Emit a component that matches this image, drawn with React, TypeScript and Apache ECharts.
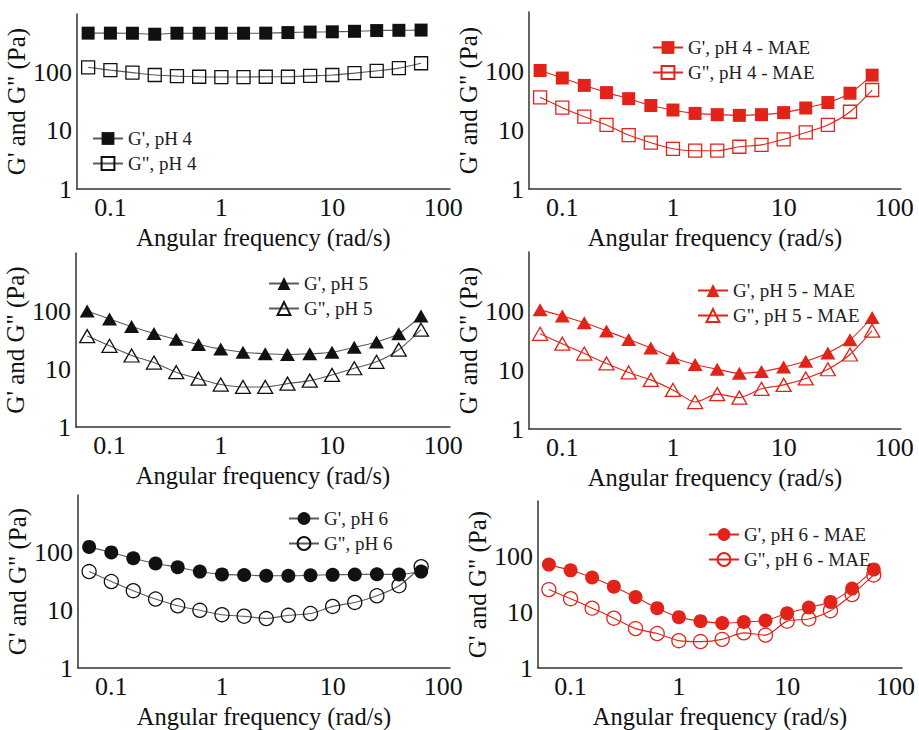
import React, { useEffect, useRef } from 'react';
import * as echarts from 'echarts';

// Angular frequency (rad/s)
const freq = [0.063, 0.1, 0.158, 0.251, 0.398, 0.631, 1, 1.585, 2.512, 3.981, 6.31, 10, 15.85, 25.12, 39.81, 63.1];

// pH 4
const gp_pH4 = [470, 470, 468, 450, 468, 468, 468, 468, 470, 480, 490, 495, 505, 520, 525, 530];
const gpp_pH4 = [122, 109, 99, 90, 86, 84, 83, 83, 84, 84, 87, 90, 97, 106, 118, 143];
// pH 4 - MAE
const gp_pH4_MAE = [102, 76, 57, 43, 34, 26, 21.8, 19.1, 18.2, 17.7, 18.2, 19.7, 23.6, 29.2, 42, 85];
const gpp_pH4_MAE = [35.8, 23.9, 16.8, 12.2, 8.2, 6.1, 4.8, 4.46, 4.46, 5.2, 5.6, 6.96, 9.1, 12.2, 20.4, 47.6];
// pH 5
const gp_pH5 = [100, 73, 54, 41, 32.5, 26.5, 22.1, 19.5, 18.3, 17.8, 18.3, 19.5, 23.6, 29.3, 40.5, 82];
const gpp_pH5 = [36.9, 25.1, 17.1, 12.9, 8.8, 6.8, 5.4, 4.9, 4.9, 5.6, 6.3, 7.9, 10.3, 13.3, 21.5, 47.7];
// pH 5 - MAE
const gp_pH5_MAE = [105, 82, 63, 46, 33, 23.6, 16.1, 12.4, 10.3, 8.8, 9.4, 11.2, 14.1, 19.5, 32.5, 77.6];
const gpp_pH5_MAE = [41, 27.9, 19, 12.9, 9.1, 6.8, 4.6, 2.86, 3.9, 3.4, 4.8, 5.6, 7.2, 10.3, 18.3, 46.4];
// pH 6
const gp_pH6 = [126, 101, 80, 65, 56, 47, 42, 41, 39.7, 39.7, 40.6, 41.3, 41.8, 42.3, 41.8, 47];
const gpp_pH6 = [47, 31.6, 21.9, 15.7, 12, 10, 8.4, 7.9, 7.2, 8.2, 8.8, 11.7, 13.7, 17.9, 26.7, 57];
// pH 6 - MAE
const gp_pH6_MAE = [72, 56.8, 42.3, 28.9, 18.8, 11.9, 8.2, 6.95, 6.4, 6.7, 7.15, 9.6, 12.2, 15.4, 26.7, 59];
const gpp_pH6_MAE = [25.6, 17.6, 11.9, 7.85, 5.1, 4.16, 3.1, 2.98, 3.27, 4.28, 3.9, 6.95, 7.6, 10.7, 20.9, 47];

const xTickValues = [0.1, 1, 10, 100];
const yTickValues = [1, 10, 100];

const FONT = 'Liberation Serif, Times New Roman, serif';
const BLACK = '#111111';
const BLACK_LINE = '#5a5a5a';
const RED = '#e2231a';

type Panel = {
  grid: { left: number; top: number; width: number; height: number };
  legend: { left: number; top: number };
  fill: string;
  line: string;
  symbol: string;
  size: number | number[];
  names: [string, string];
  values: [number[], number[]];
};

const panels: Panel[] = [
  {
    grid: { left: 77, top: 14, width: 373, height: 175 },
    legend: { left: 87, top: 124 },
    fill: BLACK, line: BLACK_LINE, symbol: 'rect', size: 13,
    names: ["G', pH 4", 'G", pH 4'], values: [gp_pH4, gpp_pH4],
  },
  {
    grid: { left: 529, top: 12, width: 372, height: 177 },
    legend: { left: 647, top: 33 },
    fill: RED, line: RED, symbol: 'rect', size: 13,
    names: ["G', pH 4 - MAE", 'G", pH 4 - MAE'], values: [gp_pH4_MAE, gpp_pH4_MAE],
  },
  {
    grid: { left: 76, top: 253, width: 374, height: 174 },
    legend: { left: 263, top: 269 },
    fill: BLACK, line: BLACK_LINE, symbol: 'triangle', size: [15, 13],
    names: ["G', pH 5", 'G", pH 5'], values: [gp_pH5, gpp_pH5],
  },
  {
    grid: { left: 529, top: 252, width: 372, height: 177 },
    legend: { left: 692, top: 276 },
    fill: RED, line: RED, symbol: 'triangle', size: [15, 13],
    names: ["G', pH 5 - MAE", 'G", pH 5 - MAE'], values: [gp_pH5_MAE, gpp_pH5_MAE],
  },
  {
    grid: { left: 78, top: 495, width: 372, height: 177 },
    legend: { left: 283, top: 504 },
    fill: BLACK, line: BLACK_LINE, symbol: 'circle', size: 14,
    names: ["G', pH 6", 'G", pH 6'], values: [gp_pH6, gpp_pH6],
  },
  {
    grid: { left: 538, top: 501, width: 364, height: 171 },
    legend: { left: 703, top: 520 },
    fill: RED, line: RED, symbol: 'circle', size: 14,
    names: ["G', pH 6 - MAE", 'G", pH 6 - MAE'], values: [gp_pH6_MAE, gpp_pH6_MAE],
  },
];

const isTick = (v: number, list: number[]) => list.some((t) => Math.abs(Math.log10(v) - Math.log10(t)) < 1e-6);

export default function App() {
  const ref = useRef<HTMLDivElement>(null);

  useEffect(() => {
    document.body.style.margin = '0';
    if (!ref.current) return;
    const chart = echarts.init(ref.current, undefined, { renderer: 'svg' });

    const grids = panels.map((p) => ({ ...p.grid, containLabel: false }));
    const axisLine = { show: true, lineStyle: { color: '#333333', width: 1.5 } };

    const xAxes = panels.map((_, i) => ({
      type: 'log',
      logBase: 10,
      gridIndex: i,
      min: 0.05,
      max: 115,
      axisLine,
      axisTick: { show: false },
      splitLine: { show: false },
      axisLabel: {
        fontFamily: FONT,
        fontSize: 26,
        color: '#111',
        margin: 5,
        showMinLabel: false,
        showMaxLabel: false,
        formatter: (v: number) => (isTick(v, xTickValues) ? String(Math.pow(10, Math.round(Math.log10(v)))) : ''),
      },
      name: 'Angular frequency (rad/s)',
      nameLocation: 'middle',
      nameGap: 36,
      nameTextStyle: { fontFamily: FONT, fontSize: 24.5, color: '#111' },
    }));

    const yAxes = panels.map((_, i) => ({
      type: 'log',
      logBase: 10,
      gridIndex: i,
      min: 1,
      max: 1000,
      axisLine,
      axisTick: { show: false },
      splitLine: { show: false },
      axisLabel: {
        fontFamily: FONT,
        fontSize: 26,
        color: '#111',
        margin: 5,
        formatter: (v: number) => (isTick(v, yTickValues) ? String(Math.round(v)) : ''),
      },
      name: 'G\' and G" (Pa)',
      nameLocation: 'middle',
      nameGap: 42,
      nameTextStyle: { fontFamily: FONT, fontSize: 25, color: '#111' },
    }));

    const series: any[] = [];
    panels.forEach((p, i) => {
      p.values.forEach((vals, j) => {
        const filled = j === 0;
        series.push({
          type: 'line',
          name: p.names[j],
          xAxisIndex: i,
          yAxisIndex: i,
          data: freq.map((f, k) => [f, vals[k]]),
          symbol: p.symbol,
          symbolSize: p.size,
          smooth: 0.25,
          lineStyle: { color: p.line, width: 1.1 },
          itemStyle: filled
            ? { color: p.fill, borderWidth: 0 }
            : { color: 'rgba(255,255,255,0)', borderColor: p.fill, borderWidth: 1.3 },
          emphasis: { disabled: true },
          z: filled ? 3 : 2,
        });
      });
    });

    const legends = panels.map((p) => ({
      data: p.names,
      left: p.legend.left,
      top: p.legend.top,
      orient: 'vertical',
      itemWidth: 30,
      itemHeight: 16,
      itemGap: 6,
      selectedMode: false,
      textStyle: { fontFamily: FONT, fontSize: 19, color: '#222' },
    }));

    chart.setOption({
      animation: false,
      backgroundColor: '#ffffff',
      textStyle: { fontFamily: FONT },
      grid: grids,
      xAxis: xAxes,
      yAxis: yAxes,
      legend: legends,
      series,
    });

    return () => chart.dispose();
  }, []);

  return <div ref={ref} style={{ width: 919, height: 730 }} />;
}
